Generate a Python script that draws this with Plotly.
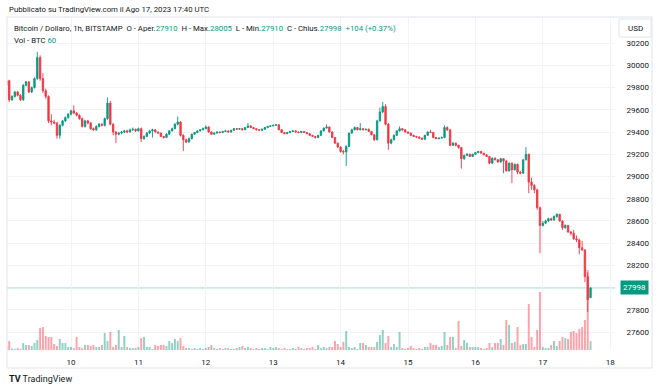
import plotly.graph_objects as go
import pandas as pd

# ---------------- data (BTC/USD, 1h, Bitstamp) ----------------
first_open = 29820
last_open = 27910          # header "O - Aper."
last_close = 27998

close = [
    # Aug 9 (01:00-23:00)
    29860, 29690, 29720, 29760, 29730, 29690, 29820, 29850, 29760, 29800, 29880, 30070,
    29880, 29770, 29720, 29500, 29490, 29480, 29370, 29460, 29500, 29530, 29560,
    # Aug 10
    29590, 29570, 29550, 29520, 29450, 29500, 29480, 29430, 29420, 29450, 29470, 29460,
    29520, 29660, 29470, 29400, 29380, 29390, 29400, 29410, 29400, 29420, 29425, 29410,
    # Aug 11
    29430, 29340, 29360, 29390, 29410, 29420, 29400, 29390, 29360, 29350, 29380, 29410,
    29430, 29470, 29490, 29370, 29330, 29310, 29340, 29380, 29395, 29410, 29420, 29430,
    # Aug 12
    29445, 29400, 29380, 29390, 29400, 29395, 29405, 29410, 29400, 29415, 29430, 29425,
    29430, 29420, 29440, 29455, 29440, 29430, 29420, 29415, 29425, 29440, 29450, 29455,
    # Aug 13
    29460, 29465, 29420, 29395, 29385, 29395, 29405, 29410, 29400, 29395, 29405, 29395,
    29385, 29370, 29360, 29350, 29370, 29410, 29435, 29445, 29400, 29350, 29300, 29265,
    # Aug 14
    29225, 29220, 29270, 29390, 29420, 29440, 29420, 29430, 29420, 29425, 29405, 29375,
    29330, 29500, 29580, 29630, 29470, 29300, 29330, 29370, 29410, 29430, 29420, 29400,
    # Aug 15
    29390, 29370, 29360, 29355, 29345, 29335, 29370, 29400, 29395, 29350, 29340, 29345,
    29350, 29440, 29420, 29280, 29300, 29280, 29260, 29160, 29190, 29200, 29180, 29200,
    # Aug 16
    29215, 29225, 29210, 29195, 29180, 29120, 29165, 29150, 29130, 29160, 29140, 29050,
    29120, 29060, 29110, 29040, 29030, 29150, 29200, 28950, 28920, 28880, 28720, 28560,
    # Aug 17 (00:00-17:00)
    28580, 28600, 28620, 28610, 28640, 28660, 28600, 28540, 28560, 28500, 28490, 28440,
    28430, 28360, 28340, 28100, 27894, last_close,
]

high = [
    29880, 29870, 29730, 29770, 29770, 29740, 29830, 29860, 29860, 29810, 29890, 30120,
    30090, 29930, 29790, 29730, 29560, 29510, 29490, 29470, 29510, 29540, 29570,
    29600, 29640, 29580, 29560, 29530, 29510, 29510, 29490, 29440, 29460, 29480, 29480,
    29530, 29710, 29680, 29480, 29410, 29400, 29410, 29420, 29420, 29430, 29440, 29430,
    29440, 29440, 29370, 29400, 29420, 29430, 29425, 29405, 29395, 29365, 29390, 29415,
    29440, 29480, 29540, 29500, 29380, 29340, 29350, 29385, 29400, 29415, 29425, 29440,
    29460, 29450, 29405, 29395, 29405, 29405, 29410, 29415, 29412, 29420, 29435, 29435,
    29435, 29432, 29445, 29480, 29460, 29442, 29432, 29422, 29430, 29445, 29455, 29460,
    29465, 29470, 29470, 29425, 29400, 29400, 29410, 29415, 29415, 29405, 29410, 29410,
    29400, 29390, 29375, 29365, 29375, 29415, 29440, 29470, 29450, 29405, 29355, 29305,
    29270, 29240, 29280, 29395, 29430, 29450, 29445, 29480, 29435, 29430, 29430, 29410,
    29380, 29510, 29620, 29670, 29650, 29480, 29340, 29380, 29415, 29450, 29435, 29425,
    29405, 29395, 29375, 29365, 29360, 29350, 29375, 29405, 29420, 29400, 29355, 29350,
    29360, 29460, 29450, 29425, 29310, 29305, 29285, 29265, 29195, 29210, 29205, 29205,
    29220, 29230, 29228, 29212, 29198, 29185, 29170, 29170, 29155, 29165, 29165, 29145,
    29125, 29125, 29115, 29115, 29050, 29155, 29265, 29205, 28990, 28930, 28890, 28730,
    28600, 28610, 28630, 28630, 28650, 28670, 28665, 28605, 28570, 28565, 28510, 28520,
    28470, 28440, 28420, 28345, 28140, 28005,
]

low = [
    29810, 29670, 29680, 29710, 29720, 29680, 29680, 29810, 29750, 29750, 29790, 29870,
    29860, 29750, 29700, 29480, 29460, 29470, 29340, 29340, 29450, 29490, 29520,
    29550, 29560, 29540, 29510, 29440, 29440, 29470, 29420, 29410, 29410, 29440, 29450,
    29450, 29510, 29460, 29370, 29300, 29370, 29380, 29390, 29390, 29395, 29410, 29400,
    29405, 29310, 29330, 29355, 29385, 29350, 29395, 29385, 29355, 29340, 29345, 29375,
    29405, 29425, 29460, 29360, 29230, 29300, 29305, 29335, 29375, 29390, 29405, 29415,
    29425, 29395, 29375, 29375, 29385, 29390, 29390, 29400, 29395, 29395, 29410, 29420,
    29420, 29415, 29418, 29435, 29435, 29425, 29415, 29410, 29410, 29420, 29435, 29445,
    29450, 29455, 29415, 29390, 29380, 29380, 29390, 29400, 29395, 29390, 29390, 29390,
    29380, 29365, 29355, 29340, 29345, 29365, 29405, 29430, 29395, 29345, 29295, 29255,
    29215, 29200, 29095, 29265, 29385, 29415, 29415, 29415, 29415, 29415, 29400, 29370,
    29320, 29325, 29495, 29570, 29460, 29240, 29290, 29325, 29365, 29405, 29410, 29395,
    29385, 29365, 29355, 29345, 29340, 29330, 29330, 29365, 29390, 29345, 29335, 29335,
    29340, 29345, 29410, 29270, 29275, 29270, 29250, 29070, 29150, 29185, 29175, 29175,
    29195, 29210, 29205, 29190, 29175, 29110, 29115, 29145, 29125, 29125, 29030, 29045,
    29045, 28940, 29055, 29020, 29020, 29025, 29145, 28850, 28880, 28850, 28700, 28310,
    28550, 28570, 28590, 28600, 28600, 28630, 28595, 28520, 28530, 28495, 28470, 28430,
    28410, 28300, 28330, 28050, 27780, 27910,
]

volume = [
    23, 60, 10, 7, 13, 7, 47, 34, 34, 27, 47, 67, 147, 154, 94, 87, 87, 40, 27, 74, 47, 47, 20,
    20, 13, 87, 20, 13, 34, 34, 27, 34, 20, 20, 34, 114, 60, 121, 20, 34, 134, 20, 94, 20, 13, 13, 13,
    20, 80, 87, 20, 20, 7, 34, 27, 34, 34, 27, 60, 47, 74, 60, 80, 27, 13, 13, 7, 13, 7, 13, 7,
    13, 20, 34, 13, 7, 13, 7, 13, 13, 7, 7, 13, 20, 27, 13, 20, 13, 7, 13, 7, 13, 13, 7, 20,
    13, 20, 13, 7, 13, 7, 7, 13, 7, 20, 13, 7, 13, 13, 20, 7, 34, 13, 20, 13, 20, 20, 60, 40,
    20, 54, 127, 20, 13, 20, 7, 47, 47, 34, 20, 20, 20, 54, 100, 134, 47, 94, 20, 40, 20, 121, 13, 7,
    13, 27, 13, 7, 13, 7, 20, 20, 47, 34, 34, 20, 27, 121, 34, 87, 87, 13, 194, 27, 67, 47, 20, 20,
    20, 20, 13, 7, 13, 47, 20, 47, 47, 74, 34, 201, 168, 47, 54, 154, 34, 40, 40, 308, 87, 20, 134, 389,
    20, 13, 13, 34, 60, 27, 60, 87, 80, 74, 121, 127, 114, 141, 154, 201, 536, 60,
]

price_ticks = [27600, 27800, 28200, 28400, 28600, 28800, 29000, 29200, 29400,
               29600, 29800, 30000, 30200]

header = "Pubblicato su TradingView.com il Ago 17, 2023 17:40 UTC"
symbol = "Bitcoin / Dollaro, 1h, BITSTAMP"
change = "+104 (+0.37%)"
last_vol = 60

# ---------------- derived ----------------
times = pd.date_range("2023-08-09 01:00", periods=len(close), freq="h")
opens = [first_open] + close[:-1]
opens[-1] = last_open

UP = "#089981"
DOWN = "#F23645"
vol_colors = ["rgba(8,153,129,0.45)" if c >= o else "rgba(242,54,69,0.45)"
              for o, c in zip(opens, close)]

# plot-area pixel geometry (for placing text outside the plot)
L, R, T, B = 7, 615, 17, 350
def px(x):
    return (x - L) / (R - L)
def py(y):
    return (B - y) / (B - T)

fig = go.Figure()
fig.add_trace(go.Bar(x=times, y=volume, marker=dict(color=vol_colors, line=dict(width=0)),
                     yaxis="y", hoverinfo="skip", showlegend=False))
fig.add_trace(go.Candlestick(
    x=times, open=opens, high=high, low=low, close=close, yaxis="y2",
    increasing=dict(line=dict(color=UP, width=0.9), fillcolor=UP),
    decreasing=dict(line=dict(color=DOWN, width=0.9), fillcolor=DOWN),
    whiskerwidth=0, showlegend=False))

FONT = "Roboto, 'Noto Sans', sans-serif"
TXT = "#131722"

fig.update_layout(
    width=660, height=391,
    margin=dict(l=L, r=660 - R, t=T, b=391 - B),
    paper_bgcolor="white", plot_bgcolor="white",
    font=dict(family=FONT, size=8, color=TXT),
    bargap=0.3,
    showlegend=False,
    hovermode=False,
    xaxis=dict(
        type="date",
        range=["2023-08-09 01:12:36", "2023-08-18 01:42:36"],
        tick0="2023-08-10", dtick=86400000, tickformat="%d",
        showgrid=True, gridcolor="#F2F3F5", gridwidth=1,
        ticks="outside", ticklen=4, tickcolor="rgba(0,0,0,0)",
        tickfont=dict(size=8, color=TXT),
        showline=False, zeroline=False,
        rangeslider=dict(visible=False),
    ),
    yaxis=dict(range=[0, 2231], visible=False, fixedrange=True),
    yaxis2=dict(
        overlaying="y", side="right",
        range=[27440, 30434],
        tickvals=price_ticks, tickformat="d",
        showgrid=True, gridcolor="#F2F3F5", gridwidth=1,
        ticks="outside", ticklen=9, tickcolor="rgba(0,0,0,0)",
        tickfont=dict(size=8, color=TXT),
        showline=False, zeroline=False,
    ),
)

teal = f"<span style='color:{UP}'>"
legend_txt = (f"{symbol}&nbsp;&nbsp;O - Aper.{teal}{opens[-1]}</span>&nbsp;&nbsp;"
              f"H - Max.{teal}{high[-1]}</span>&nbsp;&nbsp;L - Min.{teal}{low[-1]}</span>&nbsp;&nbsp;"
              f"C - Chius.{teal}{close[-1]}</span>&nbsp;&nbsp;{teal}{change}</span>")

ann = [
    dict(x=px(7), y=py(10), text=header, font=dict(size=7.8, color=TXT)),
    dict(x=px(12), y=py(28), text=legend_txt, font=dict(size=7.8, color=TXT)),
    dict(x=px(12), y=py(40), text=f"Vol - BTC {teal}{last_vol}</span>", font=dict(size=7.8, color=TXT)),
    dict(x=px(635), y=py(28), text="USD", xanchor="center", font=dict(size=8, color=TXT)),
    dict(x=px(7), y=py(379), text="<b>TV</b> TradingView", font=dict(size=9, color=TXT)),
]
annotations = []
for a in ann:
    d = dict(xref="paper", yref="paper", showarrow=False, xanchor="left", yanchor="middle")
    d.update(a)
    annotations.append(d)
annotations.append(dict(
    xref="paper", yref="y2", x=px(634), y=close[-1], text=str(close[-1]),
    showarrow=False, xanchor="center", yanchor="middle",
    bgcolor=UP, font=dict(size=8, color="white"), borderpad=2))
fig.update_layout(annotations=annotations)

fig.update_layout(shapes=[
    dict(type="rect", xref="paper", yref="paper", x0=px(7), x1=px(652), y0=py(368), y1=py(17),
         line=dict(color="#E0E3EB", width=1), fillcolor="rgba(0,0,0,0)", layer="above"),
    dict(type="rect", xref="paper", yref="paper", x0=px(619), x1=px(651), y0=py(37), y1=py(19),
         line=dict(color="#E0E3EB", width=1), fillcolor="white", layer="above"),
    dict(type="line", xref="paper", yref="y2", x0=0, x1=1, y0=close[-1], y1=close[-1],
         line=dict(color="rgba(8,153,129,0.35)", width=1), layer="below"),
])

fig.write_html("out.html", config={"displayModeBar": False, "staticPlot": True},
               post_script="document.body.style.margin='0px';")
